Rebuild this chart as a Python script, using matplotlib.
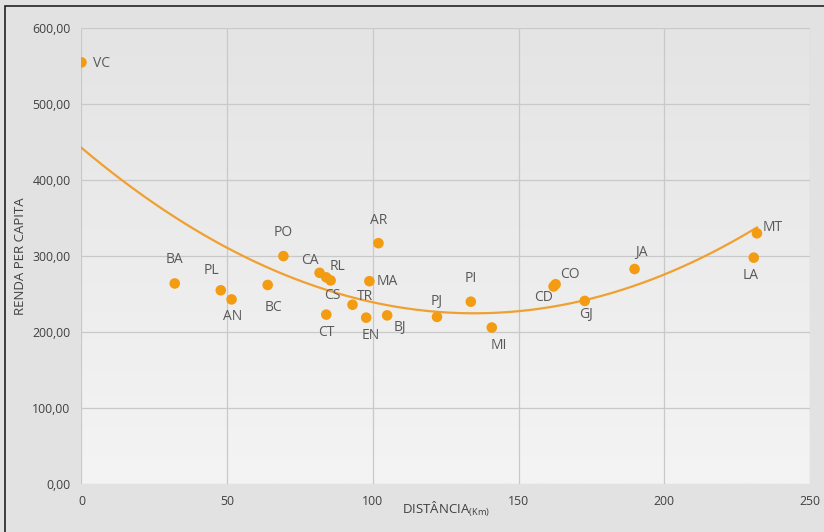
import numpy as np
import matplotlib
matplotlib.use('Agg')
import matplotlib.pyplot as plt
from matplotlib.patches import Rectangle

plt.rcParams['font.family'] = ['Open Sans', 'DejaVu Sans']

# data
cidades = ['VC', 'BA', 'PL', 'AN', 'BC', 'PO', 'CA', 'CS', 'RL', 'CT', 'TR', 'EN', 'MA',
           'AR', 'BJ', 'PJ', 'PI', 'MI', 'CD', 'CO', 'GJ', 'JA', 'MT', 'LA']
distancia = [0, 32, 47.8, 51.5, 63.9, 69.3, 81.7, 84, 85.5, 84, 93, 97.7, 98.8,
             101.9, 104.9, 122, 133.6, 140.8, 162, 162.7, 172.7, 189.8, 231.8, 230.7]
renda = [555, 264, 255, 243, 262, 300, 278, 272, 268, 223, 236, 219, 267,
         317, 222, 220, 240, 206, 260, 263, 241, 283, 330, 298]
x_ticks = [0, 50, 100, 150, 200, 250]
y_ticks = [0, 100, 200, 300, 400, 500, 600]

# label offsets in points (dx, dy), kept apart from the data
offs = {'VC': (8, -1, 'left'), 'BA': (0, 17, 'center'), 'PL': (-7, 14, 'center'),
        'AN': (1, -12, 'center'), 'BC': (4, -16, 'center'), 'PO': (0, 17, 'center'),
        'CA': (-7, 9, 'center'), 'RL': (5, 10, 'center'), 'CS': (4, -13, 'center'),
        'CT': (0, -13, 'center'), 'TR': (9, 6, 'center'), 'EN': (3, -13, 'center'),
        'MA': (5, 0, 'left'), 'AR': (0, 16, 'center'), 'BJ': (9, -9, 'center'),
        'PJ': (0, 11, 'center'), 'PI': (0, 17, 'center'), 'MI': (5, -13, 'center'),
        'CD': (-7, -8, 'center'), 'CO': (10, 7, 'center'), 'GJ': (1, -10, 'center'),
        'JA': (5, 12, 'center'), 'MT': (4, 4, 'left'), 'LA': (-2, -13, 'center')}

fig = plt.figure(figsize=(8.24, 5.32), dpi=100, facecolor='#e2e2e2')
fig.patches.append(Rectangle((0.006, -0.02), 1.1, 1.009, transform=fig.transFigure,
                             fill=False, edgecolor='#222222', lw=1.2))
ax = fig.add_axes([0.0989, 0.0902, 0.8841, 0.8568])

# gradient background of the plot area
grad = np.linspace(0, 1, 256).reshape(-1, 1)
cm = matplotlib.colors.LinearSegmentedColormap.from_list('g', ['#f4f4f4', '#e4e4e4'])
ax.imshow(grad, extent=[0, 250, 0, 600], aspect='auto', cmap=cm, origin='lower', zorder=0)

ax.set_xlim(0, 250)
ax.set_ylim(0, 600)
ax.set_xticks(x_ticks)
ax.set_yticks(y_ticks)
ax.set_xticklabels([str(v) for v in x_ticks])
ax.set_yticklabels([('%.2f' % v).replace('.', ',') for v in y_ticks])
ax.grid(True, color='#c9c9c9', lw=0.9, zorder=1)
for s in ax.spines.values():
    s.set_visible(False)
ax.tick_params(length=0, labelsize=8.8, colors='#404040', pad=8)

# polynomial trend (order 2)
c = np.polyfit(distancia, renda, 2)
xs = np.linspace(min(distancia), max(distancia), 200)
ax.plot(xs, np.polyval(c, xs), color='#f0a030', lw=1.6, zorder=2)

ax.scatter(distancia, renda, s=58, color='#f39c12', zorder=3, edgecolors='none')
for n, x, y in zip(cidades, distancia, renda):
    dx, dy, ha = offs[n]
    ax.annotate(n, (x, y), xytext=(dx, dy), textcoords='offset points', ha=ha, va='center',
                fontsize=10, color='#595959', zorder=4)

ax.set_ylabel('RENDA PER CAPITA', fontsize=9.5, color='#404040', labelpad=4)
ax.set_xlabel('DISTÂNCIA$_{\\mathregular{(Km)}}$', fontsize=9.5, color='#404040', labelpad=-6)

fig.savefig('out.png', dpi=100, facecolor=fig.get_facecolor())
